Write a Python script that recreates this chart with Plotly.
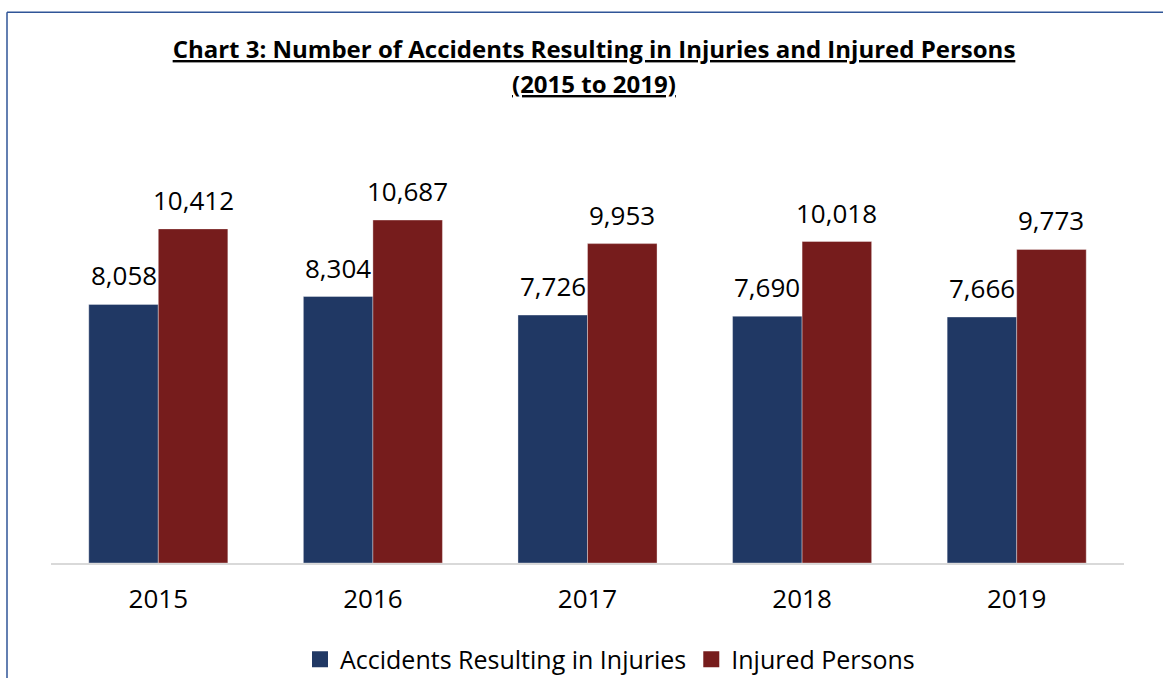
import plotly.graph_objects as go

years = ["2015", "2016", "2017", "2018", "2019"]
accidents = [8058, 8304, 7726, 7690, 7666]
injured = [10412, 10687, 9953, 10018, 9773]
series_names = ["Accidents Resulting in Injuries", "Injured Persons"]
title_lines = ["Chart 3: Number of Accidents Resulting in Injuries and Injured Persons", "(2015 to 2019)"]

BLUE = "#203864"
RED = "#761C1C"
FONT = "Open Sans"

W, H = 1163, 678
L, R, T, B = 51, 39, 130, 114.5
plot_w = W - L - R
plot_h = H - T - B
base_y = H - B
px_per_unit = (base_y - 229) / 10412
ymax = plot_h / px_per_unit
bar_px = 69.5


def py(pix):
    """pixel row from top of the figure -> paper y"""
    return (base_y - pix) / plot_h


def px(pix):
    return (pix - L) / plot_w


fig = go.Figure()
series = [(series_names[0], accidents, BLUE, -1), (series_names[1], injured, RED, 1)]
for name, vals, col, side in series:
    fig.add_trace(go.Bar(
        x=years, y=vals, name=name, showlegend=False,
        marker=dict(color=col, line=dict(color="rgba(255,255,255,0.35)", width=1)),
        hoverinfo="skip",
    ))
    for i, v in enumerate(vals):
        fig.add_annotation(
            x=i, y=v, text=f"{v:,}", showarrow=False,
            xref="x", yref="y",
            xanchor="center", yanchor="bottom",
            xshift=side * bar_px / 2, yshift=9,
            font=dict(family=FONT, size=26, color="#000000"),
        )
for name, vals, col, side in series:
    # legend proxy (no visible mark)
    fig.add_trace(go.Scatter(
        x=[years[0]], y=[None], mode="markers", name=name,
        marker=dict(symbol="square", size=18, color=col),
        hoverinfo="skip",
    ))

title_font = dict(family=FONT, size=24, color="#000000", weight="bold", lineposition="under")
fig.add_annotation(
    text=title_lines[1], showarrow=False, xref="paper", yref="paper",
    x=px(594), y=py(83.6), xanchor="center", yanchor="middle",
    font=title_font,
)

fig.update_layout(
    width=W, height=H,
    margin=dict(l=L, r=R, t=T, b=B, autoexpand=False),
    paper_bgcolor="white", plot_bgcolor="white",
    barmode="group", bargap=0.352, bargroupgap=0,
    title=dict(
        text=title_lines[0],
        x=594 / W, xanchor="center", xref="container",
        y=1 - 49.6 / H, yanchor="middle", yref="container",
        font=title_font,
    ),
    xaxis=dict(
        type="category", range=[-0.5, len(years) - 0.5],
        showline=True, linecolor="#D9D9D9", linewidth=2,
        showgrid=False, ticks="", ticklabelstandoff=12,
        tickfont=dict(family=FONT, size=26, color="#000000"),
        fixedrange=True,
    ),
    yaxis=dict(range=[0, ymax], visible=False, showgrid=False, fixedrange=True),
    legend=dict(
        orientation="h", x=px(610), xanchor="center",
        y=py(660), yanchor="middle",
        font=dict(family=FONT, size=25, color="#000000"),
        traceorder="normal", itemsizing="trace",
    ),
    showlegend=True,
    shapes=[
        dict(type="line", xref="paper", yref="paper",
             x0=px(7), x1=px(W + 5), y0=py(12), y1=py(12),
             line=dict(color="#2F5597", width=1.5)),
        dict(type="line", xref="paper", yref="paper",
             x0=px(7), x1=px(7), y0=py(12), y1=py(H + 5),
             line=dict(color="#2F5597", width=1.5)),
    ],
)

fig.write_html("out.html", config={"displayModeBar": False},
               post_script="document.body.style.margin='0';document.body.style.overflow='hidden';")
